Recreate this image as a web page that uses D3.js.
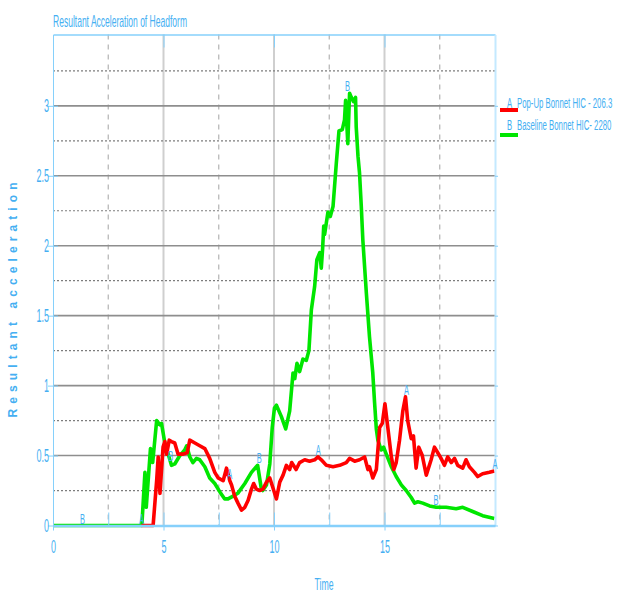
<!DOCTYPE html>
<html>
<head>
<meta charset="utf-8">
<script src="https://cdn.jsdelivr.net/npm/d3@7"></script>
<style>
  body { margin: 0; background: #fff; }
  svg { display: block; }
  text { font-family: "Liberation Sans", Arial, sans-serif; }
</style>
</head>
<body>
<svg width="619" height="595"></svg>
<script>
// ---- data: [time, resultant acceleration] ----
var baselineSeries = [
  [0, 0], [4.02, 0], [4.16, 0.38], [4.22, 0.13], [4.41, 0.55], [4.51, 0.45], [4.69, 0.75],
  [4.84, 0.72], [4.91, 0.73], [5.06, 0.59], [5.16, 0.54], [5.36, 0.43], [5.51, 0.44],
  [5.74, 0.50], [5.96, 0.54], [6.05, 0.57], [6.19, 0.49], [6.33, 0.45], [6.49, 0.48],
  [6.64, 0.47], [6.87, 0.42], [7.09, 0.34], [7.32, 0.30], [7.55, 0.24], [7.77, 0.19],
  [7.92, 0.19], [8.15, 0.21], [8.36, 0.23], [8.68, 0.30], [8.98, 0.38], [9.20, 0.42],
  [9.26, 0.43], [9.43, 0.26], [9.49, 0.25], [9.66, 0.29], [9.81, 0.44], [9.92, 0.70],
  [10.02, 0.84], [10.11, 0.86], [10.33, 0.78], [10.53, 0.69], [10.71, 0.82], [10.86, 1.09],
  [10.94, 1.05], [11.04, 1.16], [11.16, 1.10], [11.31, 1.19], [11.46, 1.18], [11.58, 1.25],
  [11.69, 1.54], [11.84, 1.71], [11.94, 1.90], [12.07, 1.95], [12.14, 1.84], [12.20, 1.98],
  [12.25, 2.14], [12.29, 2.08], [12.44, 2.24], [12.55, 2.21], [12.67, 2.28], [12.82, 2.59],
  [12.94, 2.82], [13.09, 2.83], [13.19, 2.90], [13.24, 3.04], [13.34, 2.73], [13.42, 3.09],
  [13.50, 3.06], [13.60, 3.03], [13.69, 3.06], [13.72, 2.85], [13.80, 2.64], [13.87, 2.52],
  [13.95, 2.28], [14.02, 2.04], [14.18, 1.66], [14.32, 1.35], [14.47, 1.09], [14.55, 0.88],
  [14.63, 0.69], [14.70, 0.61], [14.85, 0.54], [14.96, 0.56], [15.08, 0.51], [15.31, 0.42],
  [15.53, 0.35], [15.76, 0.29], [15.98, 0.25], [16.21, 0.20], [16.36, 0.16], [16.51, 0.17],
  [16.73, 0.16], [17.04, 0.14], [17.34, 0.13], [17.79, 0.13], [18.24, 0.12], [18.54, 0.13],
  [18.99, 0.10], [19.44, 0.07], [19.97, 0.05]
];

var popupSeries = [
  [4.00, 0], [4.53, 0], [4.69, 0.32], [4.76, 0.49], [4.84, 0.23], [4.98, 0.56], [5.06, 0.60],
  [5.14, 0.51], [5.26, 0.61], [5.36, 0.60], [5.51, 0.59], [5.66, 0.51], [5.89, 0.51],
  [6.07, 0.52], [6.19, 0.61], [6.42, 0.59], [6.64, 0.57], [6.87, 0.55], [7.09, 0.48],
  [7.32, 0.38], [7.47, 0.34], [7.70, 0.32], [7.85, 0.41], [8.00, 0.32], [8.08, 0.29],
  [8.22, 0.21], [8.37, 0.16], [8.53, 0.11], [8.68, 0.13], [8.83, 0.18], [8.98, 0.26],
  [9.08, 0.30], [9.20, 0.26], [9.35, 0.25], [9.50, 0.26], [9.66, 0.31], [9.81, 0.34],
  [9.95, 0.27], [10.11, 0.19], [10.26, 0.31], [10.41, 0.36], [10.56, 0.43], [10.71, 0.40],
  [10.80, 0.45], [11.00, 0.40], [11.16, 0.45], [11.39, 0.47], [11.61, 0.46], [11.84, 0.47],
  [11.99, 0.49], [12.14, 0.47], [12.37, 0.43], [12.67, 0.42], [12.97, 0.43], [13.27, 0.45],
  [13.42, 0.48], [13.65, 0.46], [13.87, 0.47], [14.10, 0.49], [14.25, 0.40], [14.32, 0.42],
  [14.47, 0.34], [14.63, 0.40], [14.78, 0.70], [14.90, 0.73], [15.02, 0.87], [15.15, 0.70],
  [15.31, 0.49], [15.42, 0.40], [15.53, 0.45], [15.68, 0.61], [15.83, 0.82], [15.95, 0.92],
  [16.05, 0.75], [16.21, 0.62], [16.31, 0.64], [16.43, 0.41], [16.55, 0.56], [16.71, 0.50],
  [16.89, 0.36], [17.11, 0.47], [17.26, 0.56], [17.41, 0.52], [17.56, 0.48], [17.71, 0.43],
  [17.86, 0.49], [18.02, 0.45], [18.17, 0.48], [18.31, 0.43], [18.54, 0.41], [18.69, 0.47],
  [18.84, 0.42], [19.07, 0.38], [19.22, 0.35], [19.44, 0.37], [19.75, 0.38], [19.97, 0.39]
];

var xTickValues = [0, 5, 10, 15];
var xMinorValues = [2.5, 7.5, 12.5, 17.5];
var yTickValues = [0, 0.5, 1, 1.5, 2, 2.5, 3];
var yMinorValues = [0.25, 0.75, 1.25, 1.75, 2.25, 2.75, 3.25];

var popupMarkerTimes = [4, 8, 12, 16, 20];
var baselineMarkerTimes = [1.33, 5.33, 9.33, 13.33, 17.33];

var seriesLetters = ["A", "B"];
var seriesNames = ["Pop-Up Bonnet HIC - 206.3", "Baseline Bonnet HIC- 2280"];
var seriesColors = ["#ff0000", "#00e600"];

var titleText = "Resultant Acceleration of Headform";
var xLabelText = "Time";
var yLabelText = "Resultant acceleration";

// ---- layout ----
var blueText = "#45aff2",
    blueAxis = "#86d0fb";

var margin = {top: 34.5, right: 124, bottom: 69.5, left: 53},
    width = 619 - margin.left - margin.right,
    height = 595 - margin.top - margin.bottom;

var xScale = d3.scaleLinear().domain([0, 20]).range([0, width]);
var yScale = d3.scaleLinear().domain([0, 3.51]).range([height, 0]);

var svg = d3.select("svg");
var g = svg.append("g")
    .attr("transform", "translate(" + margin.left + "," + margin.top + ")");

// ---- grid ----
g.selectAll("line.vminor")
  .data(xMinorValues).enter().append("line")
    .attr("x1", function(d) { return xScale(d); })
    .attr("x2", function(d) { return xScale(d); })
    .attr("y1", 0).attr("y2", height)
    .style("stroke", "#b3b3b3").style("stroke-width", 1.2)
    .style("stroke-dasharray", "5,5");

g.selectAll("line.vmajor")
  .data(xTickValues.slice(1)).enter().append("line")
    .attr("x1", function(d) { return xScale(d); })
    .attr("x2", function(d) { return xScale(d); })
    .attr("y1", 0).attr("y2", height)
    .style("stroke", "#cfcfcf").style("stroke-width", 2);

g.selectAll("line.hminor")
  .data(yMinorValues).enter().append("line")
    .attr("x1", 0).attr("x2", width)
    .attr("y1", function(d) { return yScale(d); })
    .attr("y2", function(d) { return yScale(d); })
    .style("stroke", "#7d7d7d").style("stroke-width", 1.2)
    .style("stroke-dasharray", "2,2");

g.selectAll("line.hmajor")
  .data(yTickValues.slice(1)).enter().append("line")
    .attr("x1", 0).attr("x2", width)
    .attr("y1", function(d) { return yScale(d); })
    .attr("y2", function(d) { return yScale(d); })
    .style("stroke", "#8e8e8e").style("stroke-width", 1.6);

// ---- curves (baseline under pop-up) ----
var valueline = d3.line()
    .x(function(d) { return xScale(d[0]); })
    .y(function(d) { return yScale(d[1]); });

g.append("path")
    .attr("d", valueline(baselineSeries))
    .style("fill", "none").style("stroke", seriesColors[1])
    .style("stroke-width", 3.6).style("stroke-linejoin", "round");

g.append("path")
    .attr("d", valueline(popupSeries))
    .style("fill", "none").style("stroke", seriesColors[0])
    .style("stroke-width", 3.6).style("stroke-linejoin", "round");

// ---- axes ----
function styleAxis(sel) {
  sel.attr("font-family", null).attr("font-size", null);
  sel.select(".domain").style("stroke", blueAxis);
  sel.selectAll(".tick line").style("stroke", blueAxis);
}

// inward ticks along the bottom
g.append("g")
    .attr("transform", "translate(0," + height + ")")
    .call(d3.axisBottom(xScale).tickValues(xTickValues.concat(xMinorValues))
      .tickSize(-13).tickFormat(""))
    .call(styleAxis)
    .call(function(s) { s.select(".domain").remove(); });

// top border with inward major ticks
g.append("g")
    .call(d3.axisTop(xScale).tickValues(xTickValues.slice(1))
      .tickSizeInner(-13).tickSizeOuter(0).tickFormat(""))
    .call(styleAxis)
    .call(function(s) { s.select(".domain").style("stroke-width", 1.5); });

// right border
g.append("g")
    .attr("transform", "translate(" + width + ",0)")
    .call(d3.axisRight(yScale).tickValues(yTickValues)
      .tickSizeInner(3).tickSizeOuter(0).tickFormat(""))
    .call(styleAxis)
    .call(function(s) { s.select(".domain").style("stroke", "#c4e9ff").style("stroke-width", 2); });

// bottom axis with labels
g.append("g")
    .attr("transform", "translate(0," + height + ")")
    .call(d3.axisBottom(xScale).tickValues(xTickValues)
      .tickSizeInner(5).tickSizeOuter(0).tickFormat(d3.format("d")))
    .call(styleAxis)
    .call(function(s) {
      s.select(".domain").style("stroke-width", 2.5);
      s.selectAll(".tick text")
        .attr("y", 15)
        .style("font-size", "18px").style("fill", blueText)
        .attr("transform", "scale(0.5,1)");
    });

// left axis with labels
g.append("g")
    .call(d3.axisLeft(yScale).tickValues(yTickValues)
      .tickSizeInner(5).tickSizeOuter(0).tickFormat(d3.format("")))
    .call(styleAxis)
    .call(function(s) {
      s.selectAll(".tick line").attr("x1", 5);
      s.selectAll(".tick text")
        .attr("x", -8)
        .style("font-size", "18px").style("fill", blueText)
        .attr("transform", "scale(0.5,1)");
    });

// ---- curve markers (A / B) ----
function markerValue(series, t) {
  // highest point of the curve near the marker time
  var near = series.filter(function(d) { return Math.abs(d[0] - t) <= 0.15; });
  var i = d3.bisector(function(d) { return d[0]; }).left(series, t);
  var v;
  if (i <= 0) v = series[0][1];
  else if (i >= series.length) v = series[series.length - 1][1];
  else {
    var a = series[i - 1], b = series[i];
    v = a[1] + (b[1] - a[1]) * (t - a[0]) / (b[0] - a[0]);
  }
  return d3.max(near.map(function(d) { return d[1]; }).concat([v]));
}

var markerData = popupMarkerTimes.map(function(t) {
      return {t: t, v: markerValue(popupSeries, t), letter: seriesLetters[0]};
    }).concat(baselineMarkerTimes.map(function(t) {
      return {t: t, v: markerValue(baselineSeries, t), letter: seriesLetters[1]};
    }));

g.selectAll("text.marker")
  .data(markerData).enter().append("text")
    .attr("class", "marker")
    .attr("transform", function(d) {
      return "translate(" + xScale(d.t) + "," + (yScale(d.v) - 2) + ") scale(0.5,1)";
    })
    .attr("text-anchor", "middle")
    .style("font-size", "15px").style("fill", blueText)
    .text(function(d) { return d.letter; });

// ---- title and axis labels ----
svg.append("text")
    .attr("x", margin.left).attr("y", 27)
    .attr("textLength", 134).attr("lengthAdjust", "spacingAndGlyphs")
    .style("font-size", "17px").style("fill", blueText)
    .text(titleText);

svg.append("text")
    .attr("x", 324).attr("y", 590)
    .attr("text-anchor", "middle")
    .attr("textLength", 19).attr("lengthAdjust", "spacingAndGlyphs")
    .style("font-size", "16px").style("fill", blueText)
    .text(xLabelText);

svg.append("text")
    .attr("transform", "translate(17,300) rotate(-90)")
    .attr("text-anchor", "middle")
    .attr("textLength", 235).attr("lengthAdjust", "spacing")
    .style("font-size", "12px").style("font-weight", "bold").style("fill", blueText)
    .text(yLabelText);

// ---- legend ----
var legend = svg.selectAll("g.legend")
  .data(seriesNames).enter().append("g")
    .attr("transform", function(d, i) { return "translate(500," + (108 + i * 22) + ")"; });

legend.append("line")
    .attr("x1", 0).attr("x2", 18)
    .attr("y1", function(d, i) { return 2 + i * 3; })
    .attr("y2", function(d, i) { return 2 + i * 3; })
    .style("stroke", function(d, i) { return seriesColors[i]; })
    .style("stroke-width", 4);

legend.append("text")
    .attr("transform", "translate(7,0) scale(0.55,1)")
    .style("font-size", "14px").style("fill", blueText)
    .text(function(d, i) { return seriesLetters[i]; });

legend.append("text")
    .attr("transform", "translate(17,0) scale(0.52,1)")
    .style("font-size", "15px").style("fill", blueText)
    .text(function(d) { return d; });
</script>
</body>
</html>
